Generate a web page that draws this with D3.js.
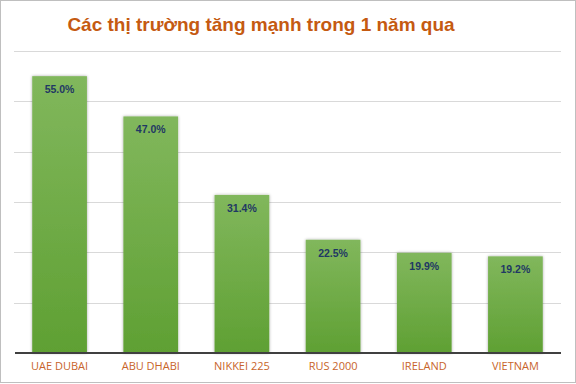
<!DOCTYPE html>
<html><head><meta charset="utf-8">
<script src="https://cdn.jsdelivr.net/npm/d3@7"></script>
<style>body{margin:0;background:#fff}svg{display:block}</style>
</head><body>
<script>
const categories = ["UAE DUBAI","ABU DHABI","NIKKEI 225","RUS 2000","IRELAND","VIETNAM"];
const values = [55.0, 47.0, 31.4, 22.5, 19.9, 19.2];
const yTicks = [0,10,20,30,40,50,60];
const title = "Các thị trường tăng mạnh trong 1 năm qua";

const W=576,H=384;
const svg=d3.select("body").append("svg").attr("width",W).attr("height",H);
svg.append("rect").attr("x",0.5).attr("y",0.5).attr("width",W-1).attr("height",H-2)
  .attr("fill","#fff").attr("stroke","#bfbfbf");

const defs=svg.append("defs");
const g=defs.append("linearGradient").attr("id","bg").attr("x1",0).attr("y1",0).attr("x2",0).attr("y2",1);
g.append("stop").attr("offset","0%").attr("stop-color","#81b75c");
g.append("stop").attr("offset","100%").attr("stop-color","#5fa033");
const f=defs.append("filter").attr("id","sh").attr("x","-20%").attr("y","-10%").attr("width","140%").attr("height","120%");
f.append("feDropShadow").attr("dx",0).attr("dy",0).attr("stdDeviation",1.5).attr("flood-color","#000").attr("flood-opacity",0.35);

const x=d3.scaleBand().domain(categories).range([14,561]).paddingInner(0.4).paddingOuter(0.2);
const y=d3.scaleLinear().domain([0,60]).range([353,51]);

svg.append("g").selectAll("line").data(yTicks.filter(t=>t>0)).join("line")
  .attr("x1",14).attr("x2",561).attr("y1",d=>Math.round(y(d))+0.5).attr("y2",d=>Math.round(y(d))+0.5)
  .attr("stroke","#d9d9d9").attr("stroke-width",1);

svg.append("g").selectAll("rect").data(values).join("rect")
  .attr("x",(d,i)=>x(categories[i])).attr("width",x.bandwidth())
  .attr("y",d=>y(d)).attr("height",d=>y(0)-y(d))
  .attr("fill","url(#bg)").attr("filter","url(#sh)");

svg.append("line").attr("x1",15).attr("x2",561).attr("y1",353).attr("y2",353)
  .attr("stroke","#404040").attr("stroke-width",2);

svg.append("g").selectAll("text").data(values).join("text")
  .attr("x",(d,i)=>x(categories[i])+x.bandwidth()/2).attr("y",d=>y(d)+17)
  .attr("text-anchor","middle").attr("font-family","Liberation Sans, Arial, sans-serif")
  .attr("font-size",10.5).attr("font-weight","bold").attr("fill","#1f3864")
  .text(d=>d.toFixed(1)+"%");

const xa=svg.append("g").attr("transform","translate(0,353)")
  .call(d3.axisBottom(x).tickSize(0).tickPadding(9));
xa.select(".domain").remove();
xa.selectAll("text").attr("font-family","Open Sans, Liberation Sans, sans-serif").attr("font-size",11)
  .attr("fill","#c8642a");

svg.append("text").attr("x",261).attr("y",31).attr("text-anchor","middle")
  .attr("font-family","Liberation Sans, Arial, sans-serif").attr("font-weight","bold")
  .attr("font-size",19).attr("fill","#c55a11").text(title);
</script>
</body></html>
